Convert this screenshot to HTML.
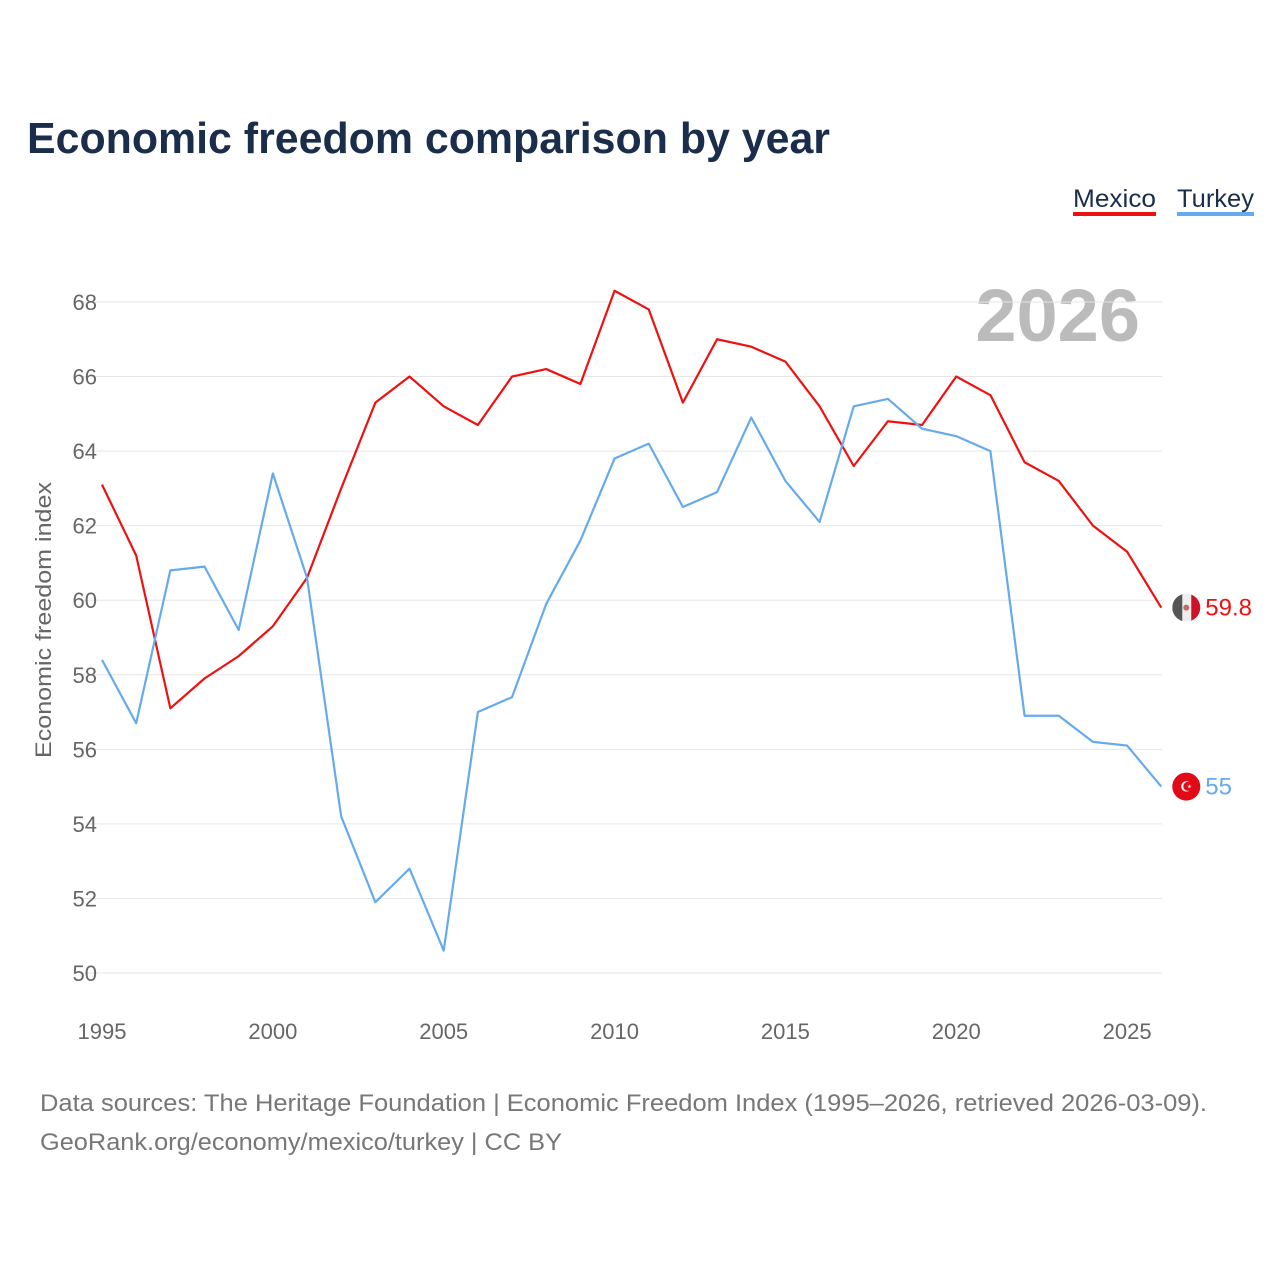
<!DOCTYPE html>
<html><head><meta charset="utf-8"><style>
body{margin:0;background:#fff;font-family:"Liberation Sans",sans-serif;}
#wrap{position:relative;width:1280px;height:1280px;}
</style></head><body>
<div id="wrap">
<svg id="chart" width="1280" height="1280">
<defs><clipPath id="mxclip"><circle cx="1186" cy="607" r="14"/></clipPath></defs>
<text x="27" y="153" font-size="44" font-weight="bold" fill="#1a2e4c" textLength="803" lengthAdjust="spacingAndGlyphs">Economic freedom comparison by year</text>
<g><text x="1073" y="207" font-size="25" fill="#1a2e4c" textLength="83" lengthAdjust="spacingAndGlyphs">Mexico</text><rect x="1073" y="212" width="83" height="4" fill="#ee1111"/></g>
<g><text x="1177" y="207" font-size="25" fill="#1a2e4c" textLength="77" lengthAdjust="spacingAndGlyphs">Turkey</text><rect x="1177" y="212" width="77" height="4" fill="#66aaee"/></g>
<text x="1140" y="341" font-size="74" font-weight="bold" fill="#bbbbbb" text-anchor="end">2026</text>
<text transform="translate(51,620) rotate(-90)" font-size="22" fill="#666" text-anchor="middle" textLength="276" lengthAdjust="spacingAndGlyphs">Economic freedom index</text>
<g id="grid"></g><g id="lines"></g>
<text x="40" y="1111" font-size="24" fill="#777" textLength="1167" lengthAdjust="spacingAndGlyphs">Data sources: The Heritage Foundation | Economic Freedom Index (1995–2026, retrieved 2026-03-09).</text>
<text x="40" y="1150" font-size="24" fill="#777" textLength="522" lengthAdjust="spacingAndGlyphs">GeoRank.org/economy/mexico/turkey | CC BY</text>
</svg></div>
<script>
const years=[1995,1996,1997,1998,1999,2000,2001,2002,2003,2004,2005,2006,2007,2008,2009,2010,2011,2012,2013,2014,2015,2016,2017,2018,2019,2020,2021,2022,2023,2024,2025,2026];
const mexico=[63.1,61.2,57.1,57.9,58.5,59.3,60.6,63.0,65.3,66.0,65.2,64.7,66.0,66.2,65.8,68.3,67.8,65.3,67.0,66.8,66.4,65.2,63.6,64.8,64.7,66.0,65.5,63.7,63.2,62.0,61.3,59.8];
const turkey=[58.4,56.7,60.8,60.9,59.2,63.4,60.6,54.2,51.9,52.8,50.6,57.0,57.4,59.9,61.6,63.8,64.2,62.5,62.9,64.9,63.2,62.1,65.2,65.4,64.6,64.4,64.0,56.9,56.9,56.2,56.1,55.0];
const yTicks=[50,52,54,56,58,60,62,64,66,68];
const xTicks=[1995,2000,2005,2010,2015,2020,2025];
const NS="http://www.w3.org/2000/svg";
const xs=y=>102+(y-1995)*34.17;
const ys=v=>973-(v-50)*37.28;
function mk(t,a,p){const e=document.createElementNS(NS,t);for(const k in a)e.setAttribute(k,a[k]);p.appendChild(e);return e;}
const g=document.getElementById('grid');
yTicks.forEach(v=>{
const l=mk('line',{x1:80,x2:1162,y1:ys(v),y2:ys(v),stroke:'#e6e6e6','stroke-width':1},g);


const t=mk('text',{x:97,y:ys(v)+8,'font-size':22,fill:'#666','text-anchor':'end'},g);t.textContent=v;


});
xTicks.forEach(v=>{
const t=mk('text',{x:xs(v),y:1039,'font-size':22,fill:'#666','text-anchor':'middle'},g);t.textContent=v;


});
const L=document.getElementById('lines');
function series(vals,col,name,label){
const p=mk('polyline',{points:vals.map((v,i)=>xs(years[i])+','+ys(v)).join(' '),fill:'none',stroke:col,'stroke-width':2.2,'stroke-linejoin':'round'},L);


const last=vals[vals.length-1],lx=xs(years[years.length-1]);
const fg=mk('g',{},L);


if(name==='mexico'){
const cl=document.querySelector('#mxclip circle');cl.setAttribute('cx',lx+25);cl.setAttribute('cy',ys(last));
const inner=mk('g',{'clip-path':'url(#mxclip)'},fg);
mk('rect',{x:lx+11,y:ys(last)-14,width:28,height:28,fill:'#eee'},inner);
mk('rect',{x:lx+11,y:ys(last)-14,width:10,height:28,fill:'#555'},inner);
mk('rect',{x:lx+30,y:ys(last)-14,width:10,height:28,fill:'#ce1126'},inner);
mk('circle',{cx:lx+25,cy:ys(last),r:3,fill:'#c66'},inner);
}else{
mk('circle',{cx:lx+25,cy:ys(last),r:14,fill:'#e30a17'},fg);
const s=mk('text',{x:lx+25,y:ys(last)+5,'font-size':14,fill:'#fff','text-anchor':'middle'},fg);s.textContent='☪';}
const t=mk('text',{x:lx+44,y:ys(last)+8,'font-size':24,fill:col},L);t.textContent=label(last);


}
series(mexico,'#ee1111','mexico',v=>v);
series(turkey,'#66aaee','turkey',v=>v);
</script></body></html>
